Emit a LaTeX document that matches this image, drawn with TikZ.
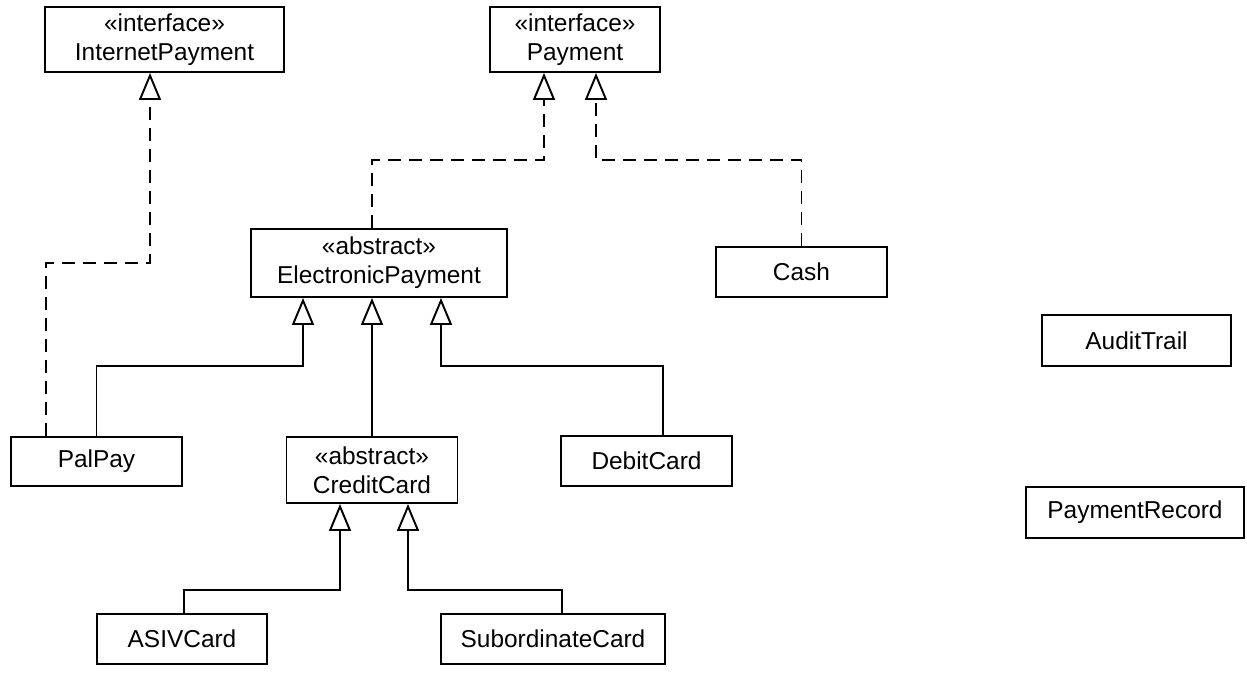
\documentclass[tikz,border=0pt]{standalone}
\usepackage{fontspec}
\setmainfont{Liberation Sans}
\usetikzlibrary{arrows.meta}
\tikzset{%
  cls/.style={draw, rectangle, line width=1.1pt, align=center, inner sep=0pt,
    font=\fontsize{13.9}{16.5}\selectfont},% class box
  inherit/.style={line width=1.1pt, -{Triangle[open, length=0.54cm, width=0.44cm]}},% generalization
  realize/.style={inherit, dash pattern=on 0.26cm off 0.16cm}% interface realization
}

\begin{document}
\begin{tikzpicture}
\useasboundingbox (0,0) rectangle (24.94,-13.84);

\node[cls, minimum width=4.78cm, minimum height=1.30cm] (ip) at (3.29, -0.79) {«interface»\\InternetPayment};
\node[cls, minimum width=3.40cm, minimum height=1.30cm] (pay) at (11.5, -0.79) {«interface»\\Payment};
\node[cls, minimum width=5.12cm, minimum height=1.36cm] (ep) at (7.58, -5.26) {«abstract»\\ElectronicPayment};
\node[cls, minimum width=3.42cm, minimum height=1.00cm] (cash) at (16.03, -5.44) {Cash};
\node[cls, minimum width=3.78cm, minimum height=1.02cm] (audit) at (22.73, -6.81) {AuditTrail};
\node[cls, minimum width=4.36cm, minimum height=1.02cm] (rec) at (22.70, -10.25) {PaymentRecord};
\node[cls, minimum width=3.42cm, minimum height=0.98cm] (palpay) at (1.93, -9.23) {PalPay};
\node[cls, minimum width=3.42cm, minimum height=1.32cm] (cc) at (7.44, -9.40) {«abstract»\\CreditCard};
\node[cls, minimum width=3.42cm, minimum height=1.00cm] (debit) at (12.93, -9.22) {DebitCard};
\node[cls, minimum width=3.40cm, minimum height=1.00cm] (asiv) at (3.64, -12.78) {ASIVCard};
\node[cls, minimum width=4.48cm, minimum height=1.00cm] (sub) at (11.06, -12.78) {SubordinateCard};

% realizations
\draw[realize] ([xshift=-1.01cm]palpay.north) -- ++(0,3.46) -| ([xshift=-0.29cm]ip.south);
\draw[realize] ([xshift=-0.14cm]ep.north) -- ++(0,1.36) -| ([xshift=-0.62cm]pay.south);
\draw[realize] (cash.north) -- ++(0,1.72) -| ([xshift=0.42cm]pay.south);

% generalizations
\draw[inherit] (palpay.north) -- ++(0,1.4) -| ([xshift=-1.52cm]ep.south);
\draw[inherit] (cc.north) -- (cc.north |- ep.south);
\draw[inherit] ([xshift=0.33cm]debit.north) -- ++(0,1.38) -| ([xshift=1.24cm]ep.south);
\draw[inherit] ([xshift=0.04cm]asiv.north) -- ++(0,0.46) -| ([xshift=-0.64cm]cc.south);
\draw[inherit] ([xshift=0.18cm]sub.north) -- ++(0,0.46) -| ([xshift=0.72cm]cc.south);

\end{tikzpicture}
\end{document}
